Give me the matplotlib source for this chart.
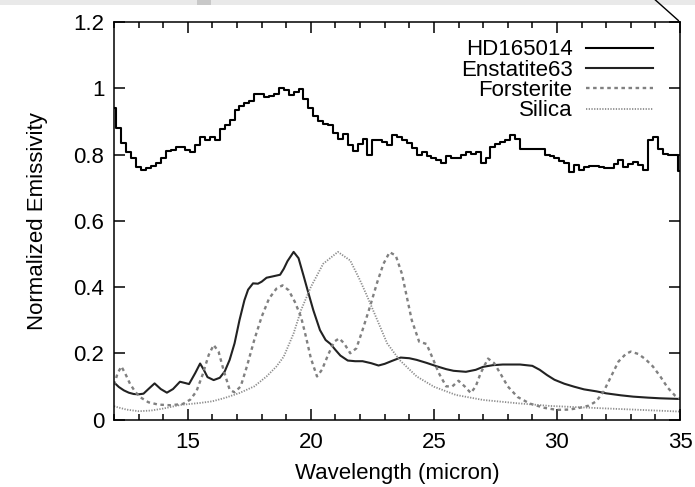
import matplotlib.pyplot as plt
from matplotlib.ticker import MultipleLocator, FuncFormatter
from matplotlib.lines import Line2D
from matplotlib.patches import Rectangle

plt.rcParams['font.family'] = ['Liberation Sans', 'DejaVu Sans']

# HD165014 spectrum (binned, normalized)
obs_wave = [12.0, 12.2, 12.4, 12.6, 12.8, 13.0, 13.2, 13.4, 13.6, 13.8,
            14.0, 14.2, 14.4, 14.6, 14.8, 15.0, 15.2, 15.4, 15.6, 15.8,
            16.0, 16.2, 16.4, 16.6, 16.8, 17.0, 17.2, 17.4, 17.6, 17.8,
            18.0, 18.2, 18.4, 18.6, 18.8, 19.0, 19.2, 19.4, 19.6, 19.8,
            20.0, 20.2, 20.4, 20.6, 20.8, 21.0, 21.2, 21.4, 21.6, 21.8,
            22.0, 22.2, 22.4, 22.6, 22.8, 23.0, 23.2, 23.4, 23.6, 23.8,
            24.0, 24.2, 24.4, 24.6, 24.8, 25.0, 25.2, 25.4, 25.6, 25.8,
            26.0, 26.2, 26.4, 26.6, 26.8, 27.0, 27.2, 27.4, 27.6, 27.8,
            28.0, 28.2, 28.4, 28.6, 28.8, 29.0, 29.2, 29.4, 29.6, 29.8,
            30.0, 30.2, 30.4, 30.6, 30.8, 31.0, 31.2, 31.4, 31.6, 31.8,
            32.0, 32.2, 32.4, 32.6, 32.8, 33.0, 33.2, 33.4, 33.6, 33.8,
            34.0, 34.2, 34.4, 34.6, 34.8, 35.0]
obs_flux = [0.940, 0.880, 0.835, 0.808, 0.788, 0.763, 0.752, 0.758, 0.765, 0.775,
            0.790, 0.812, 0.815, 0.822, 0.822, 0.815, 0.808, 0.830, 0.852, 0.843,
            0.852, 0.845, 0.878, 0.890, 0.905, 0.934, 0.946, 0.955, 0.962, 0.984,
            0.982, 0.975, 0.978, 0.984, 1.002, 0.995, 0.980, 0.990, 0.998, 0.968,
            0.940, 0.915, 0.900, 0.893, 0.888, 0.865, 0.848, 0.862, 0.830, 0.810,
            0.833, 0.846, 0.800, 0.843, 0.843, 0.838, 0.830, 0.858, 0.853, 0.845,
            0.835, 0.820, 0.798, 0.808, 0.795, 0.790, 0.783, 0.775, 0.797, 0.790,
            0.788, 0.798, 0.808, 0.803, 0.808, 0.775, 0.788, 0.823, 0.833, 0.838,
            0.843, 0.858, 0.848, 0.818, 0.818, 0.818, 0.818, 0.818, 0.798, 0.795,
            0.788, 0.780, 0.773, 0.748, 0.768, 0.753, 0.763, 0.765, 0.765, 0.762,
            0.758, 0.758, 0.772, 0.783, 0.763, 0.772, 0.778, 0.768, 0.753, 0.843,
            0.853, 0.818, 0.803, 0.798, 0.798, 0.750]

# enstatite model
ens_wave = [12.0, 12.2, 12.4, 12.6, 12.8, 13.0, 13.2, 13.4, 13.65, 13.9,
            14.15, 14.4, 14.68, 14.9, 15.05, 15.3, 15.5, 15.65, 15.8, 16.05,
            16.3, 16.5, 16.7, 16.9, 17.1, 17.3, 17.45, 17.65, 17.85, 18.0,
            18.2, 18.45, 18.75, 18.9, 19.05, 19.3, 19.5, 19.7, 19.85, 20.1,
            20.37, 20.6, 20.8, 21.0, 21.2, 21.5, 21.8, 22.1, 22.45, 22.75,
            23.0, 23.3, 23.65, 24.0, 24.3, 24.7, 25.1, 25.5, 25.8, 26.3,
            26.7, 27.0, 27.4, 27.8, 28.5, 29.0, 29.3, 29.6, 29.9, 30.3,
            30.7, 31.1, 31.6, 32.0, 32.6, 33.1, 33.7, 34.2, 35.0]
ens_flux = [0.112, 0.098, 0.088, 0.081, 0.077, 0.076, 0.078, 0.092, 0.109, 0.092,
            0.081, 0.092, 0.114, 0.110, 0.107, 0.140, 0.169, 0.150, 0.128, 0.119,
            0.126, 0.145, 0.180, 0.230, 0.300, 0.360, 0.392, 0.411, 0.410, 0.416,
            0.428, 0.432, 0.437, 0.455, 0.478, 0.506, 0.487, 0.435, 0.395, 0.330,
            0.270, 0.240, 0.228, 0.210, 0.193, 0.178, 0.176, 0.176, 0.170, 0.163,
            0.168, 0.177, 0.187, 0.185, 0.180, 0.171, 0.161, 0.152, 0.147, 0.144,
            0.150, 0.159, 0.164, 0.166, 0.166, 0.162, 0.150, 0.134, 0.120, 0.108,
            0.099, 0.091, 0.085, 0.079, 0.073, 0.069, 0.066, 0.064, 0.062]

# forsterite model
fo_wave = [12.0, 12.15, 12.3, 12.45, 12.65, 12.85, 13.05, 13.4, 13.8, 14.3,
           14.8, 15.1, 15.35, 15.6, 15.85, 16.05, 16.25, 16.45, 16.7, 16.9,
           17.15, 17.4, 17.7, 18.0, 18.3, 18.6, 18.85, 19.1, 19.35, 19.6,
           19.8, 20.0, 20.25, 20.45, 20.7, 20.95, 21.15, 21.35, 21.6, 21.85,
           22.1, 22.4, 22.7, 22.95, 23.2, 23.45, 23.7, 23.9, 24.1, 24.4,
           24.7, 24.95, 25.2, 25.5, 25.75, 26.0, 26.25, 26.5, 26.7, 26.9,
           27.2, 27.45, 27.7, 28.0, 28.4, 28.9, 29.5, 30.0, 30.5, 30.9,
           31.3, 31.6, 31.9, 32.2, 32.5, 32.8, 33.0, 33.3, 33.6, 33.9,
           34.2, 34.5, 34.8, 35.0]
fo_flux = [0.105, 0.140, 0.160, 0.140, 0.108, 0.085, 0.068, 0.052, 0.045, 0.043,
           0.047, 0.060, 0.085, 0.135, 0.195, 0.225, 0.205, 0.150, 0.090, 0.082,
           0.100, 0.160, 0.240, 0.310, 0.365, 0.395, 0.405, 0.390, 0.355, 0.310,
           0.250, 0.185, 0.130, 0.150, 0.195, 0.235, 0.245, 0.230, 0.200, 0.215,
           0.270, 0.340, 0.415, 0.470, 0.505, 0.495, 0.440, 0.370, 0.300, 0.235,
           0.228, 0.185, 0.140, 0.100, 0.100, 0.117, 0.100, 0.080, 0.100, 0.140,
           0.184, 0.170, 0.139, 0.100, 0.068, 0.048, 0.035, 0.029, 0.030, 0.035,
           0.042, 0.055, 0.085, 0.130, 0.175, 0.198, 0.205, 0.198, 0.182, 0.160,
           0.130, 0.096, 0.072, 0.062]

# silica model
si_wave = [12.0, 12.5, 13.0, 13.5, 14.0, 14.7, 15.5, 16.0, 16.5, 17.1,
           17.7, 18.2, 18.6, 18.9, 19.3, 19.6, 20.0, 20.5, 21.1, 21.6,
           22.0, 22.3, 22.7, 23.1, 23.6, 24.3, 25.0, 25.9, 27.0, 28.4,
           29.7, 31.8, 35.0]
si_flux = [0.040, 0.030, 0.025, 0.027, 0.033, 0.044, 0.050, 0.055, 0.065, 0.080,
           0.100, 0.130, 0.160, 0.190, 0.260, 0.330, 0.400, 0.470, 0.506, 0.480,
           0.420, 0.370, 0.300, 0.230, 0.180, 0.130, 0.099, 0.074, 0.059, 0.049,
           0.041, 0.034, 0.024]

fig = plt.figure(figsize=(6.95, 4.87), dpi=100)
ax = fig.add_axes([0.164, 0.1386, 0.8144, 0.8162])

ax.step(obs_wave, obs_flux, where='mid', color='black', lw=1.5, label='HD165014')
ax.plot(ens_wave, ens_flux, color='#222222', lw=1.5, label='Enstatite63')
ax.plot(fo_wave, fo_flux, color='#808080', lw=1.7, ls=(0, (1.5, 1.5)), label='Forsterite')
ax.plot(si_wave, si_flux, color='#8c8c8c', lw=1.3, ls=(0, (0.7, 0.8)), label='Silica')

ax.set_xlim(12, 35)
ax.set_ylim(0, 1.2)
ax.xaxis.set_major_locator(MultipleLocator(5))
ax.xaxis.set_minor_locator(MultipleLocator(1))
ax.yaxis.set_major_locator(MultipleLocator(0.2))
ax.yaxis.set_major_formatter(FuncFormatter(lambda v, p: '%g' % round(v, 2)))
ax.tick_params(which='both', direction='in', top=True, right=True,
               labelsize=16, width=1.1)
ax.tick_params(which='major', length=8)
ax.tick_params(which='minor', length=4)
ax.tick_params(axis='x', pad=9)
ax.tick_params(axis='y', pad=7)
for spine in ax.spines.values():
    spine.set_linewidth(1.1)

ax.set_xlabel('Wavelength (micron)', fontsize=16, labelpad=7)
ax.set_ylabel('Normalized Emissivity', fontsize=16, labelpad=18)

leg = ax.legend(loc='upper right', bbox_to_anchor=(0.956, 0.962),
                frameon=False, markerfirst=False, fontsize=16,
                labelspacing=-0.03, handlelength=3.0, handletextpad=0.62,
                borderaxespad=0.0, borderpad=0.1)
for col in leg._legend_handle_box.get_children():
    col.align = 'right'

# strip and corner line along the top edge
fig.add_artist(Rectangle((0, 0.99), 1, 0.01, transform=fig.transFigure,
                         color='#e9e9e9', lw=0))
fig.add_artist(Rectangle((0.283, 0.99), 0.02, 0.01, transform=fig.transFigure,
                         color='#c8c8c8', lw=0))
fig.add_artist(Line2D([0.943, 0.976], [1.0, 0.958], transform=fig.transFigure,
                      color='black', lw=1.0))

fig.savefig('out.png', dpi=100)
